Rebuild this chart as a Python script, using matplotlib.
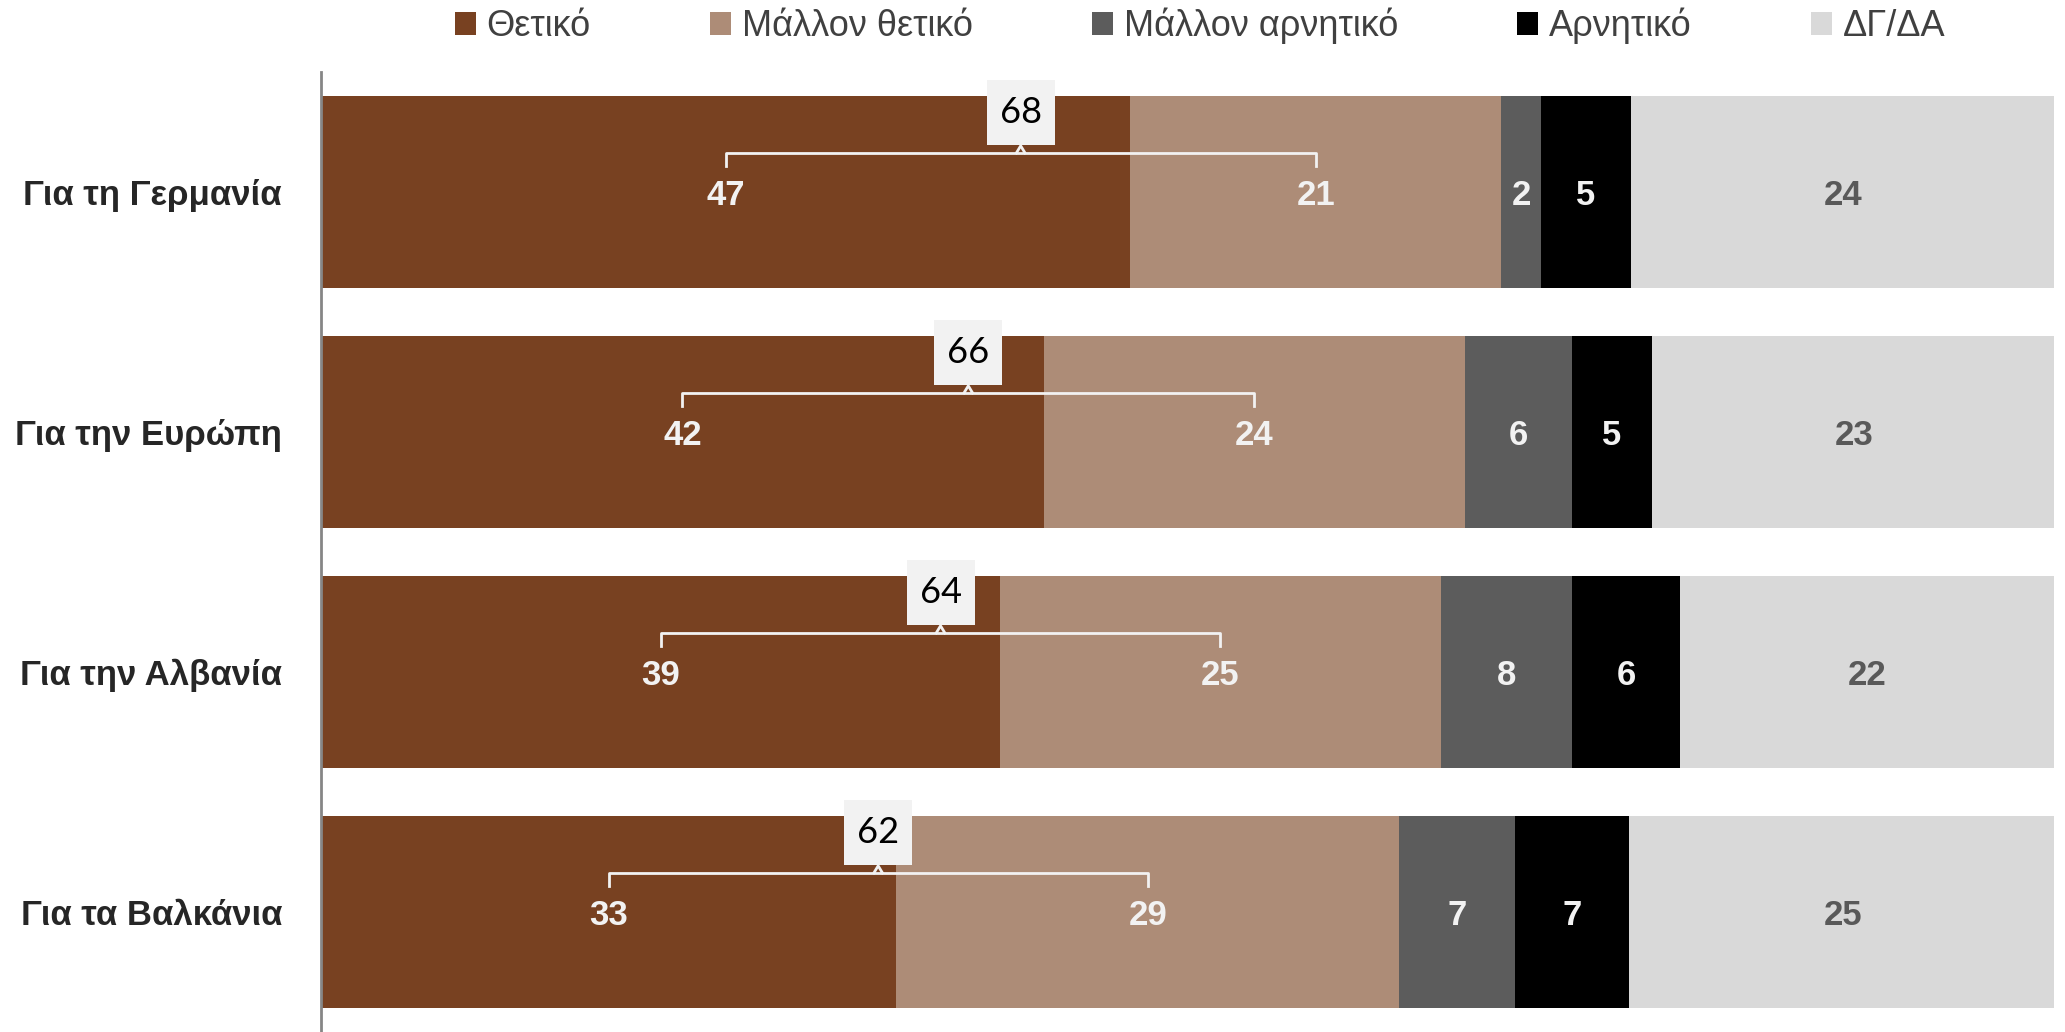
import matplotlib.pyplot as plt
from matplotlib.patches import Rectangle, Patch

categories = ['Για τη Γερμανία', 'Για την Ευρώπη', 'Για την Αλβανία', 'Για τα Βαλκάνια']
series = ['Θετικό', 'Μάλλον θετικό', 'Μάλλον αρνητικό', 'Αρνητικό', 'ΔΓ/ΔΑ']
positive = [46.7, 41.7, 39.2, 33.2]
rather_positive = [21.4, 24.3, 25.4, 29.0]
rather_negative = [2.3, 6.2, 7.6, 6.7]
negative = [5.2, 4.6, 6.2, 6.6]
dont_know = [24.4, 23.3, 21.6, 24.6]

colors = ['#784121', '#ad8c77', '#5c5c5c', '#000000', '#d9d9d9']
label_colors = ['#f2f2f2', '#f2f2f2', '#f2f2f2', '#f2f2f2', '#595959']

narrow = ['Liberation Sans Narrow', 'Liberation Sans', 'DejaVu Sans']

fig = plt.figure(figsize=(20.65, 10.32), dpi=100)
ax = fig.add_axes([321 / 2065, 0, 1733 / 2065, 960 / 1032])

data = [positive, rather_positive, rather_negative, negative, dont_know]
y = list(range(len(categories)))
left = [0.0] * len(categories)
centers = []
for vals, col, tcol in zip(data, colors, label_colors):
    ax.barh(y, vals, left=left, height=0.8, color=col, edgecolor='none')
    cs = []
    for i, v in enumerate(vals):
        c = left[i] + v / 2
        cs.append(c)
        ax.text(c, i + 0.015, '{:.0f}'.format(v), ha='center', va='center',
                color=tcol, fontsize=25, fontweight='bold', family=narrow)
        left[i] += v
    centers.append(cs)

# bracket + total box over the two positive segments
for i in range(len(categories)):
    x1, x2 = centers[0][i], centers[1][i]
    xm = (x1 + x2) / 2
    yl = i - 0.1625
    ax.plot([x1, x1, x2, x2], [i - 0.108, yl, yl, i - 0.108], color='#f2f2f2', lw=2,
            solid_joinstyle='round')
    ax.plot([xm - 0.25, xm, xm + 0.25], [yl, yl - 0.03, yl], color='#f2f2f2', lw=2)
    total = round(positive[i]) + round(rather_positive[i])
    ax.add_patch(Rectangle((xm - 1.96, i - 0.331 - 0.135), 3.92, 0.271,
                           facecolor='#f2f2f2', edgecolor='none', zorder=3))
    ax.text(xm, i - 0.331, str(total), ha='center', va='center', fontsize=26,
            family=['Lato', 'DejaVu Sans'], color='black', zorder=4)

ax.set_xlim(0, 100)
ax.set_ylim(3.5, -0.5)
ax.set_yticks(y)
ax.set_yticklabels(categories, fontsize=25, fontweight='bold', color='#262626', family=narrow)
ax.tick_params(axis='y', length=0, pad=28)
ax.set_xticks([])
for s in ['top', 'right', 'bottom']:
    ax.spines[s].set_visible(False)
ax.spines['left'].set_color('#868686')
ax.spines['left'].set_linewidth(2)

handles = [Patch(facecolor=c, edgecolor='none') for c in colors]
leg = fig.legend(handles, series, loc='center', bbox_to_anchor=(1200 / 2065, 1 - 26 / 1032),
                 ncol=5, frameon=False, handlelength=0.58, handleheight=0.58,
                 handletextpad=0.3, columnspacing=3.3,
                 prop={'family': narrow, 'size': 26})
for t in leg.get_texts():
    t.set_color('#404040')

fig.savefig('out.png', dpi=100)
